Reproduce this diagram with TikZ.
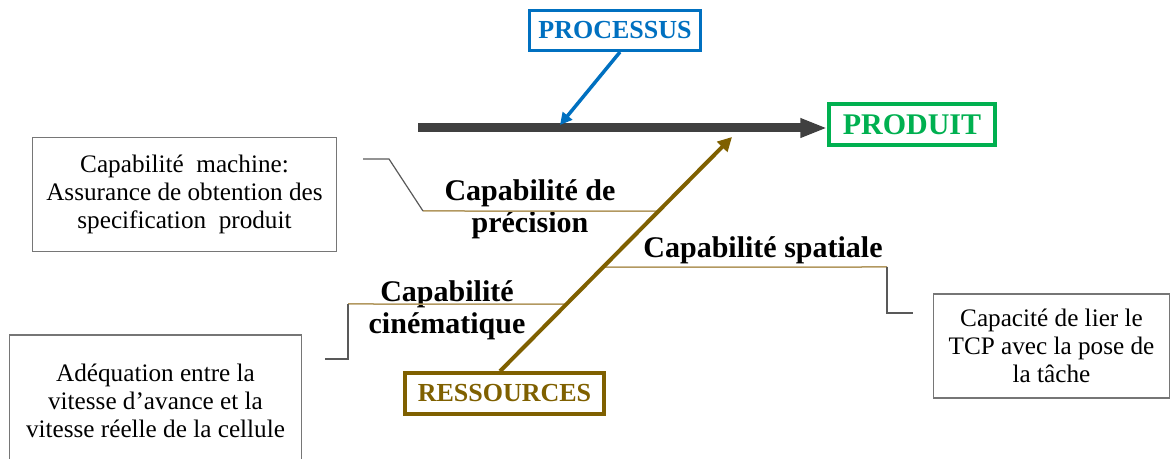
\documentclass[tikz,border=0pt]{standalone}
\usepackage{fontspec}
\setmainfont{Liberation Serif}
\usetikzlibrary{arrows.meta,positioning,calc}
\definecolor{ishblue}{RGB}{0,112,192}
\definecolor{ishgreen}{RGB}{0,176,80}
\definecolor{ishbrown}{RGB}{127,96,0}
\definecolor{ishtan}{RGB}{178,152,96}
\definecolor{spinegray}{RGB}{64,64,64}
\definecolor{leadgray}{RGB}{89,89,89}
\definecolor{boxgray}{RGB}{118,118,118}

\begin{document}
\begin{tikzpicture}[x=0.5pt,y=-0.5pt,
  every node/.style={font=\fontsize{12.6}{14}\selectfont,inner sep=0pt},
  catbox/.style={draw,line width=1.75pt,font=\fontsize{13}{15}\selectfont\bfseries},
  descbox/.style={draw=boxgray,line width=0.7pt,align=center},
  causelabel/.style={font=\fontsize{15}{16}\selectfont\bfseries,align=center},
  bone/.style={ishtan,line width=0.75pt},
  lead/.style={leadgray,line width=0.6pt}]
\clip (0,0) rectangle (1173,459);
\node[catbox,draw=ishblue,text=ishblue,line width=1.5pt,minimum width=85.5pt,minimum height=20pt] (proc) at (615,30.5) {PROCESSUS};
\node[catbox,draw=ishgreen,text=ishgreen,font=\fontsize{15}{16}\selectfont\bfseries,minimum width=83pt,minimum height=20.5pt] (prod) at (912,124.5) {PRODUIT};
\node[catbox,draw=ishbrown,text=ishbrown,minimum width=99.5pt,minimum height=20.5pt] (ress) at (504.5,393.5) {RESSOURCES};
\node[descbox,minimum width=152pt,minimum height=57pt] (mach) at (184.5,194.5) {Capabilité~ machine:\\Assurance de obtention des\\specification~ produit};
\node[descbox,minimum width=118pt,minimum height=52pt] (lier) at (1051.5,346) {Capacité de lier le\\TCP avec la pose de\\la tâche};
\node[descbox,minimum width=146pt,minimum height=66pt] (vit) at (155.5,401) {Adéquation entre la\\vitesse d’avance et la\\vitesse réelle de la cellule};
\node[causelabel] (prec) at (530,209) {Capabilité de\\précision};
\node[causelabel,anchor=base] (spat) at (763,258) {Capabilité spatiale};
\node[causelabel] (cine) at (447,310) {Capabilité\\cinématique};
\coordinate (tail) at (418,128);
\coordinate (hitp) at (560,125);
\coordinate (hitr) at (732,137);
\coordinate (rs) at ([xshift=-2.25pt]ress.north);
\coordinate (pb) at (423,211);
\coordinate (pbr) at (800,211);
\coordinate (ps) at (887,267);
\coordinate (psl) at (500,267);
\coordinate (pc) at (348,304);
\coordinate (pcr) at (700,304);
\draw[bone] (pb) -- (intersection of pb--pbr and rs--hitr);
\draw[bone] (intersection of ps--psl and rs--hitr) -- (ps);
\draw[bone] (pc) -- (intersection of pc--pcr and rs--hitr);
\draw[lead] (pb) -- ++(-34,-52) -- ++(-26,0);
\draw[lead] (ps) -- ++(0,46) -- ++(26,0);
\draw[lead] (pc) -- ++(0,55) -- ++(-23,0);
\draw[spinegray,line width=4.5pt,-{Triangle[length=13.5pt,width=9pt]}] (tail) -- (tail -| prod.west);
\draw[ishblue,line width=1.75pt,-{Triangle[length=6pt,width=6pt]}] ([xshift=2.5pt]proc.south) -- (hitp);
\draw[ishbrown,line width=2pt,-{Triangle[length=7pt,width=7pt]}] (rs) -- (hitr);
\end{tikzpicture}
\end{document}
